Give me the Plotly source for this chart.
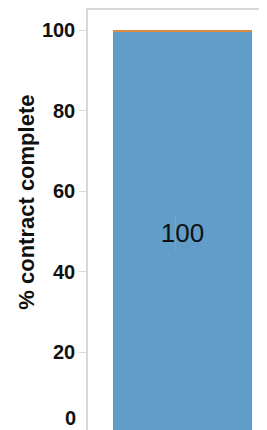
import plotly.graph_objects as go

# ---- data ----
categories = ["Contract"]
complete_pct = [99.5]
remaining_pct = [0.5]
bar_labels = ["100"]
ci_low = [45.3]
ci_high = [54.2]
y_ticks = [20, 40, 60, 80, 100]
y_ticks_zero = [0]
y_title = "% contract complete"

BLUE = "#609ec9"
ORANGE = "#de8a40"
GRID = "#d8d8d8"
FONT = "Liberation Sans, Arial, sans-serif"

x_pos = list(range(len(categories)))

fig = go.Figure()
fig.add_trace(go.Bar(
    x=x_pos, y=complete_pct, width=0.8, marker=dict(color=BLUE, line=dict(width=0)),
    text=bar_labels, textposition="inside", insidetextanchor="middle",
    textfont=dict(family=FONT, size=26, color="#111111"), name=categories[0],
    showlegend=False, hoverinfo="skip",
))
fig.add_trace(go.Bar(
    x=x_pos, y=remaining_pct, width=0.8, marker=dict(color=ORANGE, line=dict(width=0)),
    showlegend=False, hoverinfo="skip",
))
# thin orange rule (interval)
fig.add_trace(go.Scatter(
    x=[x_pos[0] - 0.0397, x_pos[0] - 0.0397], y=[ci_low[0], ci_high[0]],
    mode="lines", line=dict(color=ORANGE, width=1), yaxis="y2",
    showlegend=False, hoverinfo="skip",
))

tickfont = dict(family=FONT, size=20, color="#111111", weight="bold")

fig.update_layout(
    width=267, height=430,
    margin=dict(l=80, r=0, t=0, b=5),
    barmode="stack",
    plot_bgcolor="white", paper_bgcolor="white",
    xaxis=dict(range=[-0.5418, 0.519], showticklabels=False, ticks="",
               showgrid=False, zeroline=False,
               showline=True, linecolor=GRID, linewidth=1.5, mirror=True),
    yaxis=dict(range=[0, 105], tickvals=y_ticks, ticks="outside", ticklen=7,
               tickcolor=GRID, tickwidth=1, tickfont=tickfont,
               showgrid=False, zeroline=False,
               showline=True, linecolor=GRID, linewidth=1.5, mirror=True),
    yaxis2=dict(range=[0, 105], overlaying="y", side="left", tickvals=y_ticks_zero,
                ticks="outside", ticklen=7, tickcolor=GRID, tickwidth=1,
                tickfont=tickfont, ticklabelshift=-15,
                showgrid=False, zeroline=False, showline=False),
    annotations=[dict(text=y_title, textangle=-90, xref="paper", yref="paper",
                      x=-0.337, y=0.546, xanchor="center", yanchor="middle",
                      showarrow=False,
                      font=dict(family=FONT, size=22, color="#111111", weight="bold"))],
)

fig.write_html("out.html")
